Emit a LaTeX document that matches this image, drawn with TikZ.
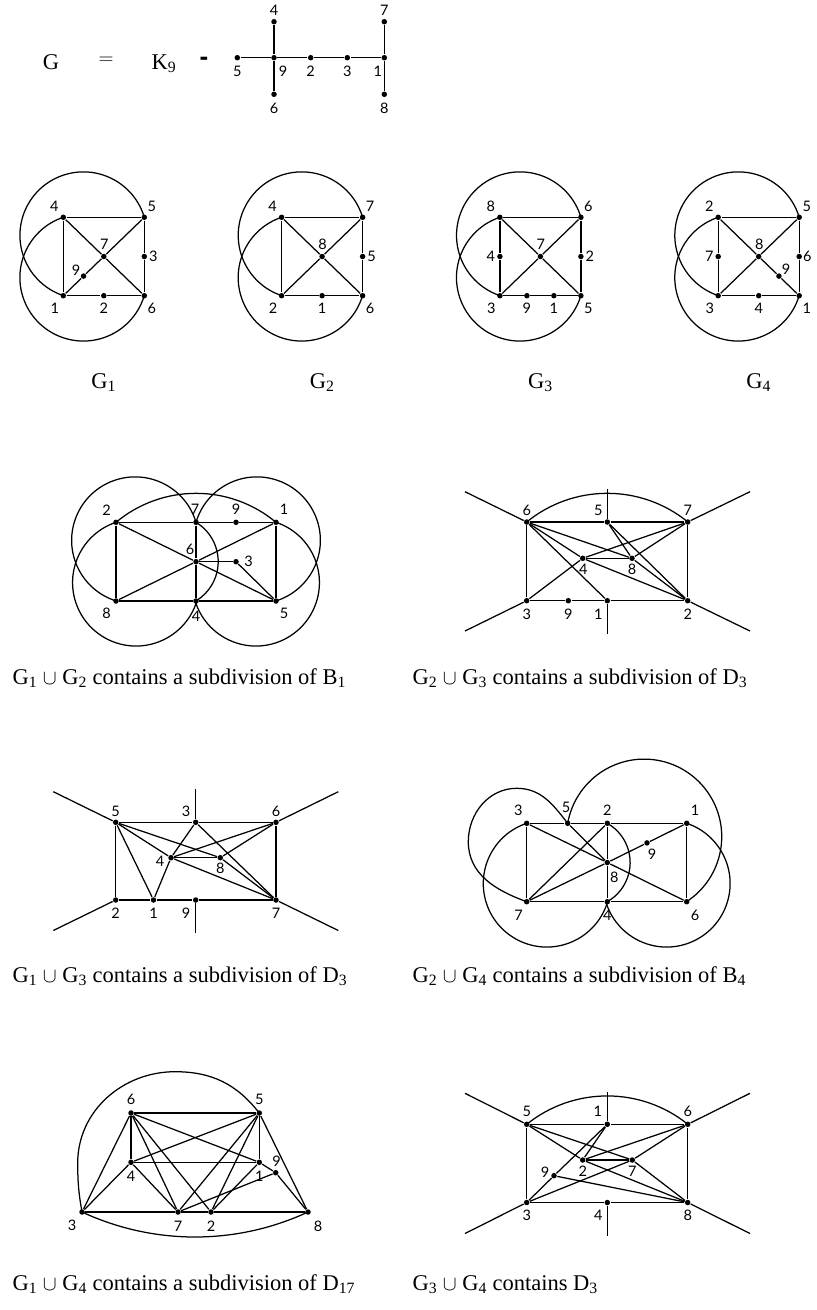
\documentclass[tikz,border=0pt]{standalone}
\usepackage{fontspec}
\setmainfont{Liberation Serif}
\newfontfamily\labfont{Lato}
\newfontfamily\dashfont{Liberation Sans}
\newcommand\Vx[6]{\node[vtx] (#1) at (#2,-#3) {}; \node[lab] (#1l) at ({#2+(#5)},{-(#3)-(#6)}) {#4};}
\newcommand\Ed[1]{\foreach \a/\b in {#1} \draw (\a)--(\b);}
\begin{document}
\begin{tikzpicture}[x=1pt,y=1pt,line width=1.25pt,line join=round,
  vtx/.style={circle,fill=black,draw=none,inner sep=0pt,minimum size=5.5pt},
  lab/.style={font=\labfont\fontsize{14.5}{15}\selectfont,inner sep=0pt},
  captxt/.style={font=\fontsize{22.5}{26}\selectfont,inner sep=0pt,anchor=base west}]
\useasboundingbox (0,0) rectangle (817,-1310);
\fill[white] (0,0) rectangle (817,-1310);

% ---------- top: G = K9 - tree
\node[captxt,anchor=base] (tG) at (51,-69.5) {G};
\node[captxt,anchor=center] (teq) at (106,-61) {$=$};
\node[captxt] (tK) at (151,-69.5) {K\textsubscript{9}};
\node[inner sep=0pt,font=\dashfont\bfseries\fontsize{26}{28}\selectfont] (tdash) at (204,-61) {-};
\Vx{t5}{237.3}{57.7}{5}{0}{13.3}
\Vx{t9}{274}{57.7}{9}{9}{13.3}
\Vx{t2}{310.7}{57.7}{2}{0}{13.3}
\Vx{t3}{347.3}{57.7}{3}{0}{13.3}
\Vx{t1}{384.3}{57.7}{1}{-6.5}{13.3}
\Vx{t4}{274}{21.7}{4}{0}{-11.7}
\Vx{t6}{274}{94.3}{6}{0}{13.7}
\Vx{t7}{384.3}{21.7}{7}{0}{-11.7}
\Vx{t8}{384.3}{94.3}{8}{0}{13.7}
\Ed{t5/t9,t9/t2,t2/t3,t3/t1,t4/t9,t9/t6,t7/t1,t1/t8}

% ---------- G1
\Vx{a4}{63.3}{217.3}{4}{-9}{-10.6}
\Vx{a5}{144.3}{217.3}{5}{7.5}{-10.6}
\Vx{a7}{103.8}{256.5}{7}{0.5}{-12.7}
\Vx{a3}{144.3}{256.5}{3}{9}{0}
\Vx{a1}{63.3}{295.7}{1}{-8.5}{12.6}
\Vx{a2}{103.8}{295.7}{2}{0}{12.6}
\Vx{a6}{144.3}{295.7}{6}{7.5}{12.6}
\Vx{a9}{83.55}{276.1}{9}{-7.5}{-6}
\Ed{a4/a5,a4/a1,a5/a3,a3/a6,a1/a2,a2/a6,a4/a7,a7/a6,a5/a7,a7/a9,a9/a1}
\draw (a5.center) arc[start angle=16.55,end angle=251.56,radius=63.5];
\draw (a4.center) arc[start angle=108.44,end angle=343.45,radius=63.5];
\node[captxt,anchor=base] (ca) at (103.8,-388.5) {G\textsubscript{1}};

% ---------- G2
\Vx{b4}{281.6}{217.3}{4}{-9}{-10.6}
\Vx{b7}{362.6}{217.3}{7}{7.5}{-10.6}
\Vx{b8}{322.1}{256.5}{8}{0.5}{-12.7}
\Vx{b5}{362.6}{256.5}{5}{9}{0}
\Vx{b2}{281.6}{295.7}{2}{-8.5}{12.6}
\Vx{b1}{322.1}{295.7}{1}{0}{12.6}
\Vx{b6}{362.6}{295.7}{6}{7.5}{12.6}
\Ed{b4/b7,b4/b2,b7/b5,b5/b6,b2/b1,b1/b6,b4/b8,b8/b6,b7/b8,b8/b2}
\draw (b7.center) arc[start angle=16.55,end angle=251.56,radius=63.5];
\draw (b4.center) arc[start angle=108.44,end angle=343.45,radius=63.5];
\node[captxt,anchor=base] (cb) at (322.1,-388.5) {G\textsubscript{2}};

% ---------- G3
\Vx{c8}{499.9}{217.3}{8}{-9}{-10.6}
\Vx{c6}{580.9}{217.3}{6}{7.5}{-10.6}
\Vx{c7}{540.4}{256.5}{7}{0.5}{-12.7}
\Vx{c4}{499.9}{256.5}{4}{-9}{0}
\Vx{c2}{580.9}{256.5}{2}{9}{0}
\Vx{c3}{499.9}{295.7}{3}{-8.5}{12.6}
\Vx{c9}{526.9}{295.7}{9}{0}{12.6}
\Vx{c1}{553.9}{295.7}{1}{0}{12.6}
\Vx{c5}{580.9}{295.7}{5}{7.5}{12.6}
\Ed{c8/c6,c8/c4,c4/c3,c6/c2,c2/c5,c3/c9,c9/c1,c1/c5,c8/c7,c7/c5,c6/c7,c7/c3}
\draw (c6.center) arc[start angle=16.55,end angle=251.56,radius=63.5];
\draw (c8.center) arc[start angle=108.44,end angle=343.45,radius=63.5];
\node[captxt,anchor=base] (cc) at (540.4,-388.5) {G\textsubscript{3}};

% ---------- G4
\Vx{d2}{718.2}{217.3}{2}{-9}{-10.6}
\Vx{d5}{799.2}{217.3}{5}{7.5}{-10.6}
\Vx{d8}{758.7}{256.5}{8}{0.5}{-12.7}
\Vx{d7}{718.2}{256.5}{7}{-9}{0}
\Vx{d6}{799.2}{256.5}{6}{8}{0}
\Vx{d3}{718.2}{295.7}{3}{-8.5}{12.6}
\Vx{d4}{758.7}{295.7}{4}{0}{12.6}
\Vx{d1}{799.2}{295.7}{1}{7.5}{12.6}
\Vx{d9}{778.95}{276.1}{9}{7}{-6.5}
\Ed{d2/d5,d2/d7,d7/d3,d5/d6,d6/d1,d3/d4,d4/d1,d2/d8,d8/d9,d9/d1,d5/d8,d8/d3}
\draw (d5.center) arc[start angle=16.55,end angle=251.56,radius=63.5];
\draw (d2.center) arc[start angle=108.44,end angle=343.45,radius=63.5];
\node[captxt,anchor=base] (cd) at (758.7,-388.5) {G\textsubscript{4}};

% ---------- G1 u G2
\Vx{p2}{116}{522.3}{2}{-9.3}{-12.3}
\Vx{p7}{196}{522.3}{7}{-1}{-13.3}
\Vx{p9}{236}{522.3}{9}{0}{-13.3}
\Vx{p1}{276}{522.3}{1}{8}{-13.3}
\Vx{p6}{196}{561.7}{6}{-6}{-12.7}
\Vx{p3}{236}{561.7}{3}{12.6}{0}
\Vx{p8}{116}{601}{8}{-9.3}{12.3}
\Vx{p4}{196}{601}{4}{0}{15}
\Vx{p5}{276}{601}{5}{8}{12.3}
\Ed{p2/p7,p7/p9,p9/p1,p1/p5,p2/p8,p8/p4,p4/p5,p7/p6,p6/p4,p2/p6,p6/p5,p8/p6,p6/p1,p6/p3,p3/p5}
\draw (p7.center) arc[start angle=16.55,end angle=251.56,radius=63.5];
\draw (p2.center) arc[start angle=108.44,end angle=343.45,radius=63.5];
\draw (p7.center) arc[start angle=163.45,end angle=-71.56,radius=63.5];
\draw (p1.center) arc[start angle=71.56,end angle=-163.45,radius=63.5];
\draw (p2.center) arc[start angle=129.81,end angle=50.19,radius=124.97];
\draw (p7.center) arc[start angle=58.9,end angle=-58.9,radius=45.9];
\node[captxt] (cp) at (12,-684) {G\textsubscript{1} $\cup$ G\textsubscript{2} contains a subdivision of B\textsubscript{1}};

% ---------- G2 u G3
\Vx{q6}{526.7}{522}{6}{0}{-12}
\Vx{q5}{607.3}{522}{5}{-9}{-12}
\Vx{q7}{687.7}{522}{7}{0}{-12}
\Vx{q4}{582.7}{558.3}{4}{0.6}{11}
\Vx{q8}{632}{558.3}{8}{0}{11}
\Vx{q3}{526.7}{600.7}{3}{0}{13.3}
\Vx{q9}{568.3}{600.7}{9}{0}{13.3}
\Vx{q1}{607.3}{600.7}{1}{-9}{13.3}
\Vx{q2}{687.7}{600.7}{2}{0}{13.3}
\coordinate (q6o) at (465,-491.7);
\coordinate (q7o) at (750,-491.7);
\coordinate (q3o) at (465,-631);
\coordinate (q2o) at (750,-631);
\coordinate (q5o) at (607.3,-489.3);
\coordinate (q1o) at (607.3,-634);
\Ed{q6/q5,q5/q7,q7/q2,q6/q3,q3/q9,q9/q1,q1/q2,q6/q6o,q7/q7o,q3/q3o,q2/q2o,q5/q5o,q1/q1o,q4/q7,q4/q2,q1/q6,q4/q8,q8/q6,q7/q8,q8/q2,q4/q6,q4/q3,q2/q5,q8/q5}
\draw (q6.center) arc[start angle=129.2,end angle=50.8,radius=127.5];
\node[captxt] (cq) at (412,-684) {G\textsubscript{2} $\cup$ G\textsubscript{3} contains a subdivision of D\textsubscript{3}};

% ---------- G1 u G3
\Vx{r5}{115.7}{822.3}{5}{0}{-11.3}
\Vx{r3}{195.7}{822.3}{3}{-9.7}{-11.3}
\Vx{r6}{276}{822.3}{6}{0}{-11.3}
\Vx{r4}{171}{857.7}{4}{-11}{4}
\Vx{r8}{220.3}{857.7}{8}{0}{10.3}
\Vx{r2}{115.7}{900}{2}{0}{13}
\Vx{r1}{153.5}{900}{1}{0}{13}
\Vx{r9}{195.7}{900}{9}{-9.7}{13}
\Vx{r7}{276}{900}{7}{0}{13}
\coordinate (r5o) at (53.3,-791.7);
\coordinate (r6o) at (338.3,-791.7);
\coordinate (r3o) at (195.7,-789);
\coordinate (r2o) at (53.3,-930.5);
\coordinate (r7o) at (338.3,-930.5);
\coordinate (r9o) at (195.7,-933);
\Ed{r5/r3,r3/r6,r6/r7,r2/r1,r1/r9,r9/r7,r5/r2,r5/r5o,r6/r6o,r3/r3o,r2/r2o,r7/r7o,r9/r9o,r4/r5,r4/r1,r4/r7,r4/r6,r5/r1,r8/r6,r8/r4,r4/r3,r8/r7,r7/r3,r8/r5}
\node[captxt] (cr) at (12,-982) {G\textsubscript{1} $\cup$ G\textsubscript{3} contains a subdivision of D\textsubscript{3}};

% ---------- G2 u G4
\Vx{s3}{526.7}{823.3}{3}{-8.4}{-13.3}
\Vx{s5}{567.7}{823.3}{5}{-1.7}{-16}
\Vx{s2}{607.3}{823.3}{2}{0}{-13.3}
\Vx{s1}{686.7}{823.3}{1}{8.3}{-13.3}
\Vx{s8}{607.3}{862.5}{8}{7}{15}
\Vx{s9}{647}{842.9}{9}{5}{11.3}
\Vx{s7}{526.7}{901.7}{7}{-8}{13.3}
\Vx{s4}{607.3}{901.7}{4}{0}{13.3}
\Vx{s6}{686.7}{901.7}{6}{8.3}{13.3}
\Ed{s3/s5,s5/s2,s2/s1,s1/s6,s3/s7,s7/s4,s4/s6,s2/s8,s8/s4,s3/s8,s8/s6,s7/s8,s8/s9,s9/s1,s7/s2,s5/s8}
\draw (s5.center) arc[start angle=170.05,end angle=-56.9,radius=77.6];
\draw (s3.center) arc[start angle=108.44,end angle=343.45,radius=63.5];
\draw (s1.center) arc[start angle=71.56,end angle=-163.45,radius=63.5];
\draw (s2.center) arc[start angle=60.5,end angle=-60.5,radius=45];
\draw (s5.center) to[out=128,in=0] (516.7,-788.3) to[out=180,in=90] (468.3,-841.7) to[out=-90,in=160] (s7.center);
\node[captxt] (cs) at (412,-982) {G\textsubscript{2} $\cup$ G\textsubscript{4} contains a subdivision of B\textsubscript{4}};

% ---------- G1 u G4
\Vx{u6}{131}{1113}{6}{0}{-13.5}
\Vx{u5}{259.3}{1113}{5}{0}{-13.5}
\Vx{u4}{131}{1162.3}{4}{0}{13.5}
\Vx{u1}{259.3}{1162.3}{1}{0}{13.5}
\Vx{u9}{275.7}{1172.7}{9}{1}{-11}
\Vx{u3}{82}{1212}{3}{-10}{13}
\Vx{u7}{178}{1212}{7}{0}{14}
\Vx{u2}{211}{1212}{2}{0}{14}
\Vx{u8}{308}{1212}{8}{10}{14}
\Ed{u6/u5,u5/u1,u1/u4,u4/u6,u6/u1,u5/u4,u6/u3,u6/u7,u6/u2,u5/u7,u5/u2,u5/u8,u4/u3,u4/u7,u1/u2,u1/u9,u9/u7,u9/u8,u3/u7,u7/u2,u2/u8}
\draw (u5.center) to[out=128,in=0] (175,-1071.7) to[out=180,in=90] (77.7,-1163) to[out=-90,in=100] (u3.center);
\draw (u3.center) arc[start angle=-114.94,end angle=-65.06,radius=268];
\node[captxt] (cu) at (12,-1290) {G\textsubscript{1} $\cup$ G\textsubscript{4} contains a subdivision of D\textsubscript{17}};

% ---------- G3 u G4
\Vx{w5}{526.7}{1124.3}{5}{0}{-12.6}
\Vx{w1}{607.3}{1124.3}{1}{-9.6}{-12.6}
\Vx{w6}{687.7}{1124.3}{6}{0}{-12.6}
\Vx{w2}{582.7}{1160}{2}{0}{11.7}
\Vx{w7}{632.3}{1160}{7}{0}{11.7}
\Vx{w9}{554}{1175.7}{9}{-9}{-3.7}
\Vx{w3}{526.7}{1202.5}{3}{0}{13}
\Vx{w4}{607.3}{1202.5}{4}{-9}{13}
\Vx{w8}{687.7}{1202.5}{8}{0}{13}
\coordinate (w5o) at (465,-1093.3);
\coordinate (w6o) at (750,-1093.3);
\coordinate (w1o) at (607.3,-1091.7);
\coordinate (w3o) at (465,-1233.5);
\coordinate (w8o) at (750,-1233.5);
\coordinate (w4o) at (607.3,-1236);
\Ed{w5/w1,w1/w6,w6/w8,w3/w4,w4/w8,w5/w3,w5/w5o,w6/w6o,w1/w1o,w3/w3o,w8/w8o,w4/w4o,w6/w2,w2/w5,w3/w9,w9/w1,w8/w7,w7/w5,w6/w7,w7/w3,w2/w7,w2/w8,w8/w9,w2/w1}
\draw (w5.center) arc[start angle=128.8,end angle=51.2,radius=128.6];
\node[captxt] (cw) at (412,-1290) {G\textsubscript{3} $\cup$ G\textsubscript{4} contains D\textsubscript{3}};
\end{tikzpicture}
\end{document}
